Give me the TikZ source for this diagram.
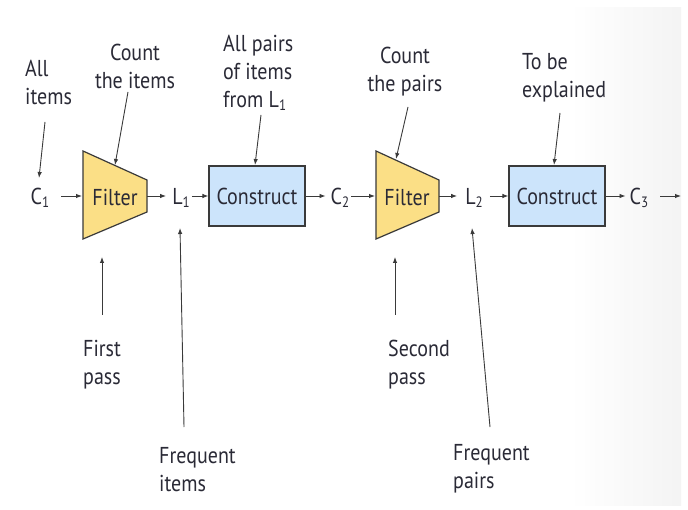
\documentclass[tikz,border=0pt]{standalone}
\usepackage{fontspec}
\setmainfont[FakeStretch=0.87]{PT Sans}
\usetikzlibrary{arrows.meta,calc}
\definecolor{txt}{HTML}{2A2A36}
\definecolor{ln}{HTML}{3A3A3A}
\definecolor{fy}{HTML}{FBDF86}
\definecolor{cb}{HTML}{CCE4FB}
\newcommand{\sbs}[1]{\raisebox{-0.28ex}{\fontsize{15}{15}\selectfont #1}}
\begin{document}
\begin{tikzpicture}[x=1pt,y=-1pt,
  lbl/.style={font=\fontsize{23}{28}\selectfont, text=txt, inner sep=0pt},
  chain/.style={font=\fontsize{23}{28}\selectfont, text=txt, inner sep=0pt},
  arr/.style={draw=ln, line width=0.9pt, -{Latex[length=6pt,width=4.5pt]}},
  cbox/.style={draw=ln, line width=1.2pt, fill=cb, minimum width=96pt, minimum height=60pt, inner sep=0pt, font=\fontsize{23}{28}\selectfont, text=txt},
  filt/.style={draw=ln, line width=1.2pt, fill=fy}]
\useasboundingbox (0,0) rectangle (688,510);
\fill[white] (0,0) rectangle (688,510);
\shade[left color=white, right color=gray!9] (570,8) rectangle (681,505);

% filters
\draw[filt] (83,151) -- (147,180) -- (147,212) -- (83,239) -- cycle;
\draw[filt] (376,151) -- (439,180) -- (439,212) -- (376,239) -- cycle;
\node[chain] (ft1) at (115,197) {Filter};
\node[chain] (ft2) at (407,197) {Filter};
\coordinate (f1w) at (82,196);
\coordinate (f1e) at (147,196);
\coordinate (f2w) at (375,196);
\coordinate (f2e) at (439,196);

% construct boxes
\node[cbox] (k1) at (257,196) {Construct};
\node[cbox] (k2) at (557,196) {Construct};

% chain labels
\node[chain] (c1) at (40,198) {C\sbs{1}};
\node[chain] (l1) at (181,198) {L\sbs{1}};
\node[chain] (c2) at (340,198) {C\sbs{2}};
\node[chain] (l2) at (474,198) {L\sbs{2}};
\node[chain] (c3) at (639,198) {C\sbs{3}};
\coordinate (endr) at (681,196);

% chain arrows
\draw[arr] ([xshift=12pt]c1.east |- f1w) -- (f1w);
\draw[arr] (f1e) -- ([xshift=-6pt]l1.west |- f1e);
\draw[arr] ([xshift=2pt]l1.east |- f1e) -- (k1.west);
\draw[arr] (k1.east) -- ([xshift=-5pt]c2.west |- k1.east);
\draw[arr] ([xshift=2pt]c2.east |- f2w) -- (f2w);
\draw[arr] (f2e) -- ([xshift=-8pt]l2.west |- f2e);
\draw[arr] ([xshift=7pt]l2.east |- f2e) -- (k2.west);
\draw[arr] (k2.east) -- ([xshift=-4pt]c3.west |- k2.east);
\draw[arr] ([xshift=12pt]c3.east |- endr) -- (endr);

% top annotations
\node[lbl, anchor=north west, align=left] (t1) at (25,60) {All\\items};
\node[lbl, anchor=north, align=center] (t2) at (135,44) {Count\\the items};
\node[lbl, anchor=north west, align=left] (t3) at (223,35) {All pairs\\of items\\from L\sbs{1}};
\node[lbl, anchor=north, align=center] (t4) at (405,47) {Count\\the pairs};
\node[lbl, anchor=north west, align=left] (t5) at (522,53) {To be\\explained};

\coordinate (a1s) at (45,122); \coordinate (a1e) at (39,178);
\coordinate (a2s) at (128,92); \coordinate (a2e) at (115,165);
\coordinate (a3s) at (261,115); \coordinate (a3e) at (255,165);
\coordinate (a4s) at (408,107); \coordinate (a4e) at (396,159);
\coordinate (a5s) at (560,113); \coordinate (a5e) at (554,165);
\draw[arr] (a1s) -- (a1e);
\draw[arr] (a2s) -- (a2e);
\draw[arr] (a3s) -- (a3e);
\draw[arr] (a4s) -- (a4e);
\draw[arr] (a5s) -- (a5e);

% bottom annotations
\node[lbl, anchor=north west, align=left] (b1) at (83,340) {First\\pass};
\node[lbl, anchor=north west, align=left] (b2) at (159,447) {Frequent\\items};
\node[lbl, anchor=north west, align=left] (b3) at (388,340) {Second\\pass};
\node[lbl, anchor=north west, align=left] (b4) at (453,444) {Frequent\\pairs};

\coordinate (p1s) at (102,315); \coordinate (p1e) at (102,257);
\coordinate (p2s) at (184,427); \coordinate (p2e) at (180,228);
\coordinate (p3s) at (395,315); \coordinate (p3e) at (395,257);
\coordinate (p4s) at (490,427); \coordinate (p4e) at (472,228);
\draw[arr] (p1s) -- (p1e);
\draw[arr] (p2s) -- (p2e);
\draw[arr] (p3s) -- (p3e);
\draw[arr] (p4s) -- (p4e);
\end{tikzpicture}
\end{document}
